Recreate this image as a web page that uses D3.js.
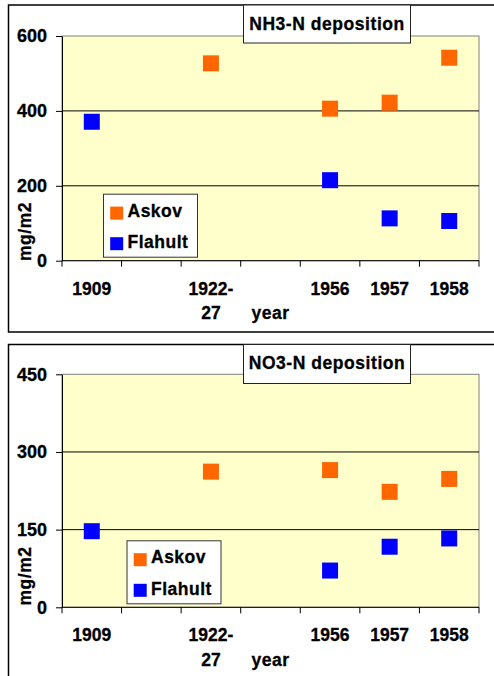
<!DOCTYPE html>
<html>
<head>
<meta charset="utf-8">
<script src="https://cdn.jsdelivr.net/npm/d3@7"></script>
<style>
  html, body { margin: 0; padding: 0; background: #fff; }
  svg { display: block; }
  text { font-family: "Liberation Sans", Arial, sans-serif; font-weight: bold; fill: #000; stroke: #000; stroke-width: 0.3px; }
</style>
</head>
<body>
<svg id="chart" width="494" height="676"></svg>
<script>
// ---- data ----
const categories = ["1909", "", "1922-27", "", "1956", "1957", "1958"];
const seriesNames = ["Askov", "Flahult"];
const seriesColors = ["#FF6600", "#0000FF"];

const nh3Askov   = [null, null, 527, null, 406, 422, 542];
const nh3Flahult = [371, null, null, null, 215, 113, 106];
const nh3Ticks   = [0, 200, 400, 600];

const no3Askov   = [null, null, 262, null, 265, 223, 248];
const no3Flahult = [147, null, null, null, 71, 117, 133];
const no3Ticks   = [0, 150, 300, 450];

const titles = ["NH3-N deposition", "NO3-N deposition"];
const yTitle = "mg/m2";
const xTitle = "year";

// ---- drawing ----
const svg = d3.select("#chart");

function drawChart(cfg) {
  const g = svg.append("g");
  // outer frame
  g.append("rect")
    .attr("x", 8.5).attr("y", cfg.frameTop)
    .attr("width", 600).attr("height", cfg.frameH)
    .attr("fill", "#fff").attr("stroke", "#000").attr("stroke-width", 1.5);

  const x = d3.scaleBand().domain(d3.range(categories.length)).range([62, 479]).paddingInner(0).paddingOuter(0);
  const y = d3.scaleLinear().domain([0, d3.max(cfg.ticks)]).range([cfg.plotBottom, cfg.plotTop]);

  // plot area
  g.append("rect")
    .attr("x", x.range()[0]).attr("y", y(d3.max(cfg.ticks)))
    .attr("width", x.range()[1] - x.range()[0]).attr("height", y(0) - y(d3.max(cfg.ticks)))
    .attr("fill", "#FFFFCC").attr("stroke", "#808080").attr("stroke-width", 1);

  // gridlines
  g.selectAll(".grid").data(cfg.ticks.filter(t => t > 0 && t < d3.max(cfg.ticks))).enter()
    .append("line")
    .attr("x1", x.range()[0]).attr("x2", x.range()[1])
    .attr("y1", d => y(d)).attr("y2", d => y(d))
    .attr("stroke", "#000").attr("stroke-width", 1);

  // y axis
  const yAxis = g.append("g").attr("transform", `translate(${x.range()[0]},0)`)
    .call(d3.axisLeft(y).tickValues(cfg.ticks).tickSize(6).tickPadding(9).tickSizeOuter(0));
  yAxis.select(".domain").attr("stroke", "#000");
  yAxis.selectAll(".tick line").attr("stroke", "#000");
  yAxis.selectAll("text").style("font-size", "18px").attr("fill", "#000")
    .style("font-family", "'Liberation Sans', Arial, sans-serif").style("font-weight", "bold");

  // x axis line + ticks at category boundaries
  g.append("line")
    .attr("x1", x.range()[0]).attr("x2", x.range()[1])
    .attr("y1", y(0)).attr("y2", y(0)).attr("stroke", "#000").attr("stroke-width", 1);
  const edges = d3.range(categories.length).map(i => x(i)).concat([x.range()[1]]);
  g.selectAll(".xt").data(edges).enter().append("line")
    .attr("x1", d => d).attr("x2", d => d)
    .attr("y1", y(0)).attr("y2", y(0) + 6).attr("stroke", "#000");

  // x labels (multi-line split after hyphen)
  categories.forEach((c, i) => {
    if (!c) return;
    const lines = c.includes("-") ? [c.split("-")[0] + "-", c.split("-")[1]] : [c];
    const t = g.append("text")
      .attr("text-anchor", "middle")
      .style("font-size", "17.5px");
    lines.forEach((ln, k) => {
      t.append("tspan")
        .attr("x", x(i) + x.bandwidth() / 2)
        .attr("y", y(0) + 34 + k * 24.5)
        .text(ln);
    });
  });

  // x title
  g.append("text")
    .attr("x", (x.range()[0] + x.range()[1]) / 2)
    .attr("y", y(0) + 58.5)
    .attr("text-anchor", "middle")
    .style("font-size", "17.5px").style("letter-spacing", "0.5px")
    .text(xTitle);

  // y title
  g.append("text")
    .attr("transform", `translate(31,${cfg.yTitleY}) rotate(-90)`)
    .attr("text-anchor", "middle")
    .style("font-size", "17.5px").style("letter-spacing", "0.5px")
    .text(yTitle);

  // points
  const sq = 16;
  cfg.series.forEach((vals, si) => {
    g.selectAll(".pt" + si).data(vals.map((v, i) => ({ v, i })).filter(d => d.v != null)).enter()
      .append("rect")
      .attr("x", d => x(d.i) + x.bandwidth() / 2 - sq / 2)
      .attr("y", d => y(d.v) - sq / 2)
      .attr("width", sq).attr("height", sq)
      .attr("fill", seriesColors[si]);
  });

  // title box
  g.append("rect")
    .attr("x", 243.5).attr("y", cfg.frameTop)
    .attr("width", 167).attr("height", cfg.titleH)
    .attr("fill", "#fff").attr("stroke", "#222").attr("stroke-width", 1);
  g.append("text")
    .attr("x", 327).attr("y", cfg.frameTop + 24.8)
    .attr("text-anchor", "middle")
    .style("font-size", "17.5px").style("letter-spacing", "0.55px")
    .text(cfg.title);

  // legend
  const lx = cfg.legendX, ly = y(0) - 66.5;
  g.append("rect")
    .attr("x", lx).attr("y", ly).attr("width", 94).attr("height", 63)
    .attr("fill", "#fff").attr("stroke", "#333").attr("stroke-width", 1);
  seriesNames.forEach((n, si) => {
    g.append("rect")
      .attr("x", lx + 6.7).attr("y", ly + 12.4 + si * 30.6)
      .attr("width", 13).attr("height", 13)
      .attr("fill", seriesColors[si]);
    g.append("text")
      .attr("x", lx + 24).attr("y", ly + 22.4 + si * 31.6)
      .style("font-size", "17.5px").style("letter-spacing", "0.5px")
      .text(n);
  });
}

drawChart({
  frameTop: 5, frameH: 327, plotTop: 36, plotBottom: 260.7,
  ticks: nh3Ticks, series: [nh3Askov, nh3Flahult], title: titles[0],
  titleH: 38, yTitleY: 231.5, legendX: 103.5
});
drawChart({
  frameTop: 344.5, frameH: 400, plotTop: 374.3, plotBottom: 607.3,
  ticks: no3Ticks, series: [no3Askov, no3Flahult], title: titles[1],
  titleH: 39, yTitleY: 576, legendX: 127
});
</script>
</body>
</html>
